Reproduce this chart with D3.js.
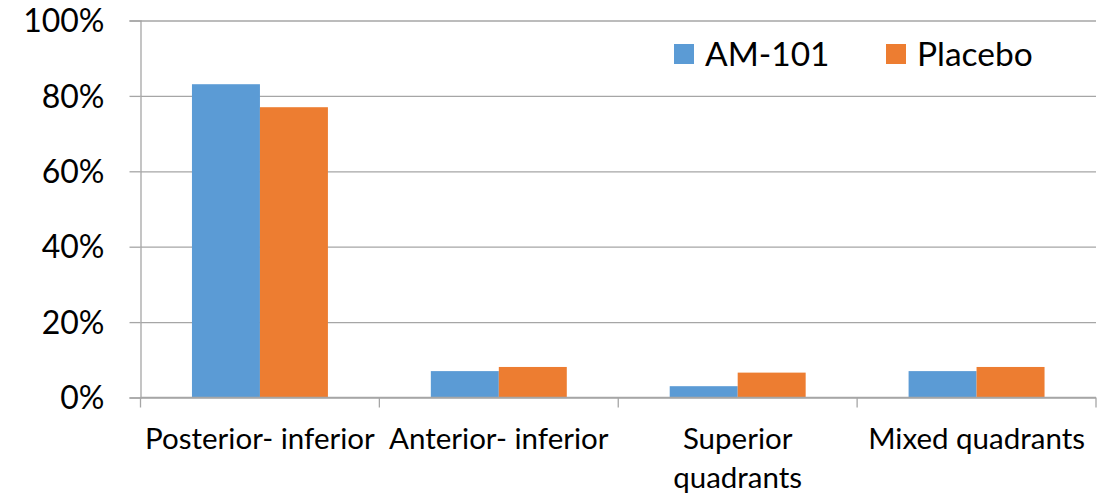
<!DOCTYPE html>
<html>
<head>
<meta charset="utf-8">
<script src="https://cdn.jsdelivr.net/npm/d3@7"></script>
<style>
  html, body { margin: 0; padding: 0; background: #fff; }
  svg { display: block; }
  text { font-family: Lato, "Open Sans", sans-serif; fill: #000; }
</style>
</head>
<body>
<svg id="chart" width="1109" height="496"></svg>
<script>
// Distribution of location by quadrant, share of patients
const categories = ["Posterior- inferior", "Anterior- inferior", "Superior quadrants", "Mixed quadrants"];
const categoryLines = [["Posterior- inferior"], ["Anterior- inferior"], ["Superior", "quadrants"], ["Mixed quadrants"]];
const seriesNames = ["AM-101", "Placebo"];
const am101 = [83.1, 7.0, 3.0, 7.0];
const placebo = [77.0, 8.1, 6.6, 8.1];
const yTicks = [0, 20, 40, 60, 80, 100];
const colors = ["#5B9BD5", "#ED7D31"];

const svg = d3.select("#chart");
const plotLeft = 140.5, plotRight = 1096, plotTop = 20.5, plotBottom = 397.5;

const x0 = d3.scaleBand().domain(categories).range([plotLeft, plotRight]).padding(0);
const x1 = d3.scaleBand().domain(seriesNames).range([0, x0.bandwidth()])
  .paddingInner(0).paddingOuter(0.757);
const y = d3.scaleLinear().domain([0, 100]).range([plotBottom, plotTop]);

// gridlines
const grid = svg.append("g").attr("transform", `translate(${plotLeft},0)`)
  .call(d3.axisLeft(y).tickValues(yTicks).tickSize(-(plotRight - plotLeft)).tickFormat(""));
grid.select(".domain").remove();
grid.selectAll(".tick line").attr("stroke", "#a6a6a6").attr("stroke-width", 1.3);

// y axis
const yAxis = svg.append("g").attr("transform", `translate(${plotLeft},0)`)
  .call(d3.axisLeft(y).tickValues(yTicks).tickSize(11).tickPadding(0).tickFormat(d => d + "%"));
yAxis.select(".domain").attr("stroke", "#a6a6a6").attr("stroke-width", 1.3);
yAxis.selectAll(".tick line").attr("stroke", "#a6a6a6").attr("stroke-width", 1.3);
yAxis.selectAll(".tick text")
  .attr("x", -36).attr("dy", "0.35em")
  .style("font-size", "32px").style("font-family", "Lato, sans-serif").attr("fill", "#000");

// bars
const data = categories.map((c, i) => ({ c, vals: [am101[i], placebo[i]] }));
const groups = svg.append("g").selectAll("g").data(data).join("g")
  .attr("transform", d => `translate(${x0(d.c)},0)`);
groups.selectAll("rect").data(d => d.vals.map((v, j) => ({ s: seriesNames[j], v, j })))
  .join("rect")
  .attr("x", d => x1(d.s))
  .attr("width", x1.bandwidth())
  .attr("y", d => y(d.v))
  .attr("height", d => y(0) - y(d.v))
  .attr("fill", d => colors[d.j]);

// x axis
const xAxis = svg.append("g").attr("transform", `translate(0,${plotBottom})`);
xAxis.append("line").attr("x1", plotLeft).attr("x2", plotRight).attr("stroke", "#a6a6a6").attr("stroke-width", 1.3);
const boundaries = categories.map(c => x0(c)).concat([plotRight]);
xAxis.selectAll("line.tick").data(boundaries).join("line").attr("class", "tick")
  .attr("x1", d => d).attr("x2", d => d).attr("y1", 0).attr("y2", 10)
  .attr("stroke", "#a6a6a6").attr("stroke-width", 1.3);

const labels = xAxis.selectAll("text.cat").data(categories).join("text").attr("class", "cat")
  .attr("text-anchor", "middle")
  .style("font-size", "29.5px");
labels.each(function (c, i) {
  const t = d3.select(this);
  categoryLines[i].forEach((line, k) => {
    t.append("tspan").attr("x", x0(c) + x0.bandwidth() / 2).attr("y", 51 + k * 39).text(line);
  });
});

// legend
const legendItems = [{ name: "AM-101", x: 674 }, { name: "Placebo", x: 886 }];
const legend = svg.append("g");
legendItems.forEach((d, i) => {
  legend.append("rect").attr("x", d.x).attr("y", 44).attr("width", 20).attr("height", 20).attr("fill", colors[i]);
  legend.append("text").attr("x", d.x + 31).attr("y", 66).style("font-size", "33.5px").text(d.name);
});
</script>
</body>
</html>
